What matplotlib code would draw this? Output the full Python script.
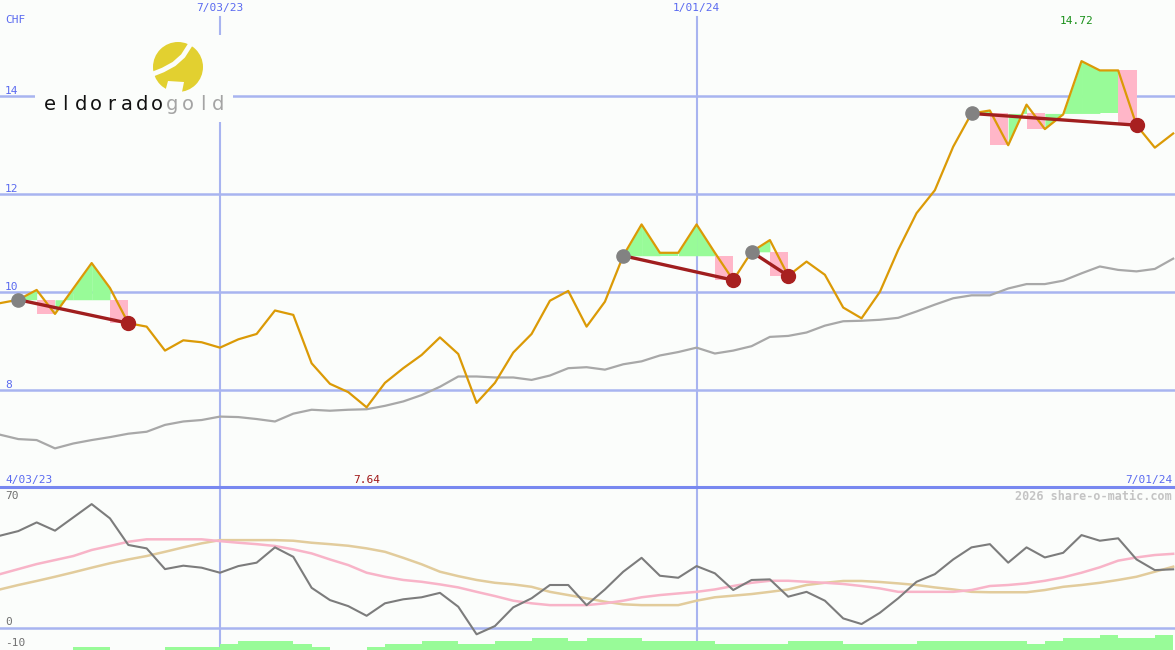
import matplotlib
matplotlib.use("Agg")
import matplotlib.pyplot as plt
import matplotlib.transforms as mtransforms
from matplotlib.patches import Rectangle, Ellipse, Polygon
from matplotlib.lines import Line2D
import numpy as np
import pandas as pd

# weekly closes (CHF), 10 Apr 2023 .. 1 Jul 2024
dates = pd.date_range("2023-04-10", periods=65, freq="7D")
price = [9.77, 9.84, 10.04, 9.55, 10.07, 10.59, 10.08, 9.36, 9.29, 8.80,
         9.01, 8.97, 8.86, 9.03, 9.14, 9.62, 9.53, 8.54, 8.12, 7.95,
         7.64, 8.14, 8.44, 8.71, 9.07, 8.73, 7.73, 8.14, 8.76, 9.14,
         9.82, 10.02, 9.29, 9.80, 10.74, 11.38, 10.80, 10.80, 11.38, 10.80,
         10.24, 10.82, 11.06, 10.33, 10.62, 10.35, 9.68, 9.46, 10.00, 10.86,
         11.61, 12.08, 12.97, 13.65, 13.71, 13.00, 13.83, 13.33, 13.63, 14.72,
         14.53, 14.53, 13.41, 12.95, 13.24]
avg = [7.08, 6.99, 6.97, 6.80, 6.90, 6.97, 7.03, 7.10, 7.14, 7.28,
       7.35, 7.38, 7.45, 7.44, 7.40, 7.35, 7.51, 7.59, 7.57, 7.59,
       7.60, 7.67, 7.76, 7.89, 8.06, 8.27, 8.27, 8.25, 8.25, 8.20,
       8.29, 8.44, 8.46, 8.41, 8.52, 8.58, 8.70, 8.77, 8.86, 8.74,
       8.80, 8.89, 9.08, 9.10, 9.17, 9.31, 9.40, 9.41, 9.43, 9.47,
       9.60, 9.74, 9.87, 9.93, 9.93, 10.07, 10.16, 10.16, 10.23, 10.38,
       10.52, 10.45, 10.42, 10.47, 10.68]

# lower panel
osc = [45.8, 48.1, 52.4, 48.3, 54.9, 61.5, 54.4, 41.2, 39.5, 29.2,
       30.9, 29.9, 27.4, 30.7, 32.4, 40.0, 35.3, 19.9, 13.8, 10.8,
       6.0, 12.2, 14.2, 15.2, 17.4, 10.5, -3.2, 0.9, 10.2, 14.7,
       21.3, 21.3, 11.3, 19.1, 27.9, 34.8, 25.9, 24.9, 30.7, 27.1,
       18.8, 23.8, 24.1, 15.5, 17.9, 13.5, 4.7, 1.9, 7.5, 14.7,
       22.9, 26.7, 34.0, 40.0, 41.6, 32.4, 40.0, 35.0, 37.3, 46.1,
       43.3, 44.5, 34.0, 28.7, 29.1]
fast = [26.7, 29.2, 31.7, 33.7, 35.7, 38.7, 40.7, 42.8, 44.0, 44.0,
        44.0, 44.0, 43.1, 42.3, 41.6, 40.7, 39.0, 37.0, 34.0, 31.2,
        27.4, 25.4, 23.8, 22.9, 21.6, 20.1, 17.9, 15.8, 13.5, 12.2,
        11.3, 11.3, 11.3, 12.2, 13.5, 15.2, 16.3, 17.1, 17.9, 19.1,
        20.8, 22.4, 23.4, 23.4, 22.9, 22.4, 21.8, 20.8, 19.6, 17.9,
        17.9, 17.9, 17.9, 18.8, 20.8, 21.3, 22.1, 23.4, 25.1, 27.4,
        30.1, 33.4, 35.0, 36.2, 36.8]
slow = [19.1, 21.3, 23.3, 25.4, 27.6, 29.9, 32.1, 34.0, 35.7, 37.8,
        40.0, 42.0, 43.6, 43.6, 43.6, 43.6, 43.3, 42.3, 41.6, 40.8,
        39.5, 37.8, 34.8, 31.6, 27.9, 25.7, 23.8, 22.4, 21.6, 20.4,
        17.9, 16.3, 14.7, 13.0, 11.7, 11.3, 11.3, 11.3, 13.5, 15.2,
        16.0, 16.8, 17.9, 19.1, 21.3, 22.4, 23.3, 23.3, 22.8, 22.1,
        21.3, 20.1, 19.1, 17.9, 17.7, 17.7, 17.7, 18.8, 20.4, 21.3,
        22.4, 23.8, 25.4, 27.9, 30.4]
volume = [0, 0, 0, 0, 1, 1, 0, 0, 0, 1, 1, 1, 2, 3, 3, 3, 2, 1, 0, 0,
          1, 2, 2, 3, 3, 2, 2, 3, 3, 4, 4, 3, 4, 4, 4, 3, 3, 3, 3, 2,
          2, 2, 2, 3, 3, 3, 2, 2, 2, 2, 3, 3, 3, 3, 3, 3, 2, 3, 4, 4,
          5, 4, 4, 5]

# signal windows (index of entry dot, index of exit dot)
sig_start = [1, 34, 41, 53]
sig_end = [7, 40, 43, 62]

price_ticks = [8, 10, 12, 14]
date_lines = [pd.Timestamp("2023-07-03"), pd.Timestamp("2024-01-01")]
date_line_labels = ["7/03/23", "1/01/24"]

bg = "#fbfdfb"
grid = "#a8b4f0"
blue = "#5a6af0"
mono = "DejaVu Sans Mono"

W, H = 1175, 650
fig = plt.figure(figsize=(W / 100, H / 100), dpi=100, facecolor=bg)
ax = fig.add_axes([0, 163 / H, 1, 487 / H], facecolor=bg)
ax2 = fig.add_axes([0, 0, 1, 163 / H], facecolor=bg)
vax = ax2.twinx()

x_right = dates[-1] + pd.Timedelta(days=0.7)
for a in (ax, ax2, vax):
    a.set_xlim(dates[0], x_right)
    a.set_xticks([])
    a.set_yticks([])
    for s in a.spines.values():
        s.set_visible(False)

# ---- main panel
ax.set_ylim(6.01, 15.97)
for t in price_ticks:
    ax.axhline(t, color=grid, lw=1.8, zorder=1)
for d in date_lines:
    ax.axvline(d, ymin=0, ymax=(487 - 17) / 487, color=grid, lw=1.5, zorder=1)

p = np.array(price)
for s, e in zip(sig_start, sig_end):
    level = p[s]
    for k in range(s, e):
        xs = dates[k:k + 2]
        ys = p[k:k + 2]
        if p[k + 1] < p[k] and p[k + 1] < level:
            top = p[k] if k == e - 1 and p[k] > level + 0.5 else level
            ax.add_patch(Rectangle((xs[0], p[k + 1]), xs[1] - xs[0], top - p[k + 1],
                                   facecolor="#ffb6c8", edgecolor="none", zorder=2))
        else:
            ax.fill_between(xs, ys, level, interpolate=True, color="#98fb98", lw=0, zorder=2)

ax.plot(dates, avg, color="#a8a8a8", lw=1.6, zorder=3)
ax.plot(dates, price, color="#db9a06", lw=1.6, zorder=4)
for s, e in zip(sig_start, sig_end):
    ax.plot([dates[s], dates[e]], [p[s], p[e]], color="#a01e1e", lw=2.4, zorder=5)
    ax.plot(dates[s], p[s], "o", color="#828282", ms=9.5, zorder=6)
    ax.plot(dates[e], p[e], "o", color="#a82020", ms=10, zorder=6)

# ---- lower panel
ax2.set_ylim(-11, 70)
vax.set_ylim(0, 163 / 3)
ax2.axhline(0, color=grid, lw=1.8, zorder=1)
for d in date_lines:
    ax2.axvline(d, color=grid, lw=1.5, zorder=1)
ax2.plot(dates, slow, color="#e2cc9c", lw=1.8, zorder=3)
ax2.plot(dates, fast, color="#f8b4c8", lw=1.8, zorder=3)
ax2.plot(dates, osc, color="#7c7c7c", lw=1.5, zorder=4)
vax.bar(dates[:-1], volume, width=7, align="edge", color="#98fb98", lw=0, zorder=5)
ax2.plot([0, 1], [1, 1], transform=ax2.transAxes, color="#7888f0", lw=2.2,
         clip_on=False, zorder=6)


# ---- texts
def px(x, y):
    return x / W, 1 - y / H


fig.text(*px(5, 20), "CHF", color=blue, fontsize=8, family=mono, va="center")
for t in price_ticks:
    yy = ax.transData.transform((0, t))[1]
    fig.text(5 / W, (yy + 5) / H, str(t), color=blue, fontsize=8, family=mono, va="center")
for d, lab in zip(date_lines, date_line_labels):
    tr = mtransforms.blended_transform_factory(ax.transData, fig.transFigure)
    ax.text(d, px(0, 8)[1], lab, transform=tr, color=blue, fontsize=8, family=mono,
            ha="center", va="center")
fig.text(*px(5, 480), "4/03/23", color=blue, fontsize=8, family=mono, va="center")
fig.text(*px(1172, 480), "7/01/24", color=blue, fontsize=8, family=mono, va="center", ha="right")

i_min = int(np.argmin(p))
i_max = int(np.argmax(p))
tr = mtransforms.blended_transform_factory(ax.transData, fig.transFigure)
ax.text(dates[i_min], px(0, 480)[1], f"{p[i_min]:.2f}", transform=tr, color="#a01818",
        fontsize=8, family=mono, ha="center", va="center")
ax.text(dates[i_max] - pd.Timedelta(days=2), px(0, 21)[1], f"{p[i_max]:.2f}", transform=tr,
        color="#189018", fontsize=8, family=mono, ha="center", va="center")

fig.text(*px(1172, 496), "2026 share-o-matic.com", color="#c4c4c4", fontsize=8.5,
         family=mono, weight="bold", ha="right", va="center")
fig.text(*px(5, 496), "70", color="#707070", fontsize=8, family=mono, va="center")
fig.text(*px(5, 622), "0", color="#707070", fontsize=8, family=mono, va="center")
fig.text(*px(5, 643), "-10", color="#707070", fontsize=8, family=mono, va="center")

# ---- logo
fig.add_artist(Rectangle(px(35, 122), 198 / W, 87 / H, transform=fig.transFigure,
                         facecolor=bg, edgecolor="none", zorder=5))
fig.add_artist(Ellipse(px(178, 67), 50 / W, 50 / H, transform=fig.transFigure,
                       facecolor="#e2d030", edgecolor="none", zorder=6))
sw = np.array([[153, 74], [163, 70], [174, 64], [183, 56], [190, 45]])
fig.add_artist(Line2D(sw[:, 0] / W, 1 - sw[:, 1] / H, transform=fig.transFigure,
                      color=bg, lw=3.5, solid_capstyle="round", zorder=7))
notch = np.array([[168, 81], [184, 82], [182, 92], [165, 92]])
fig.add_artist(Polygon(np.column_stack([notch[:, 0] / W, 1 - notch[:, 1] / H]),
                       transform=fig.transFigure, facecolor=bg, edgecolor="none", zorder=7))
for k, ch in enumerate("eldoradogold"):
    fig.text(*px(50 + k * 15.3, 110), ch, color="#111111" if k < 8 else "#a4a4a4",
             fontsize=14, family="DejaVu Sans", ha="center", va="baseline", zorder=8)

fig.savefig("out.png", dpi=100, facecolor=bg)
